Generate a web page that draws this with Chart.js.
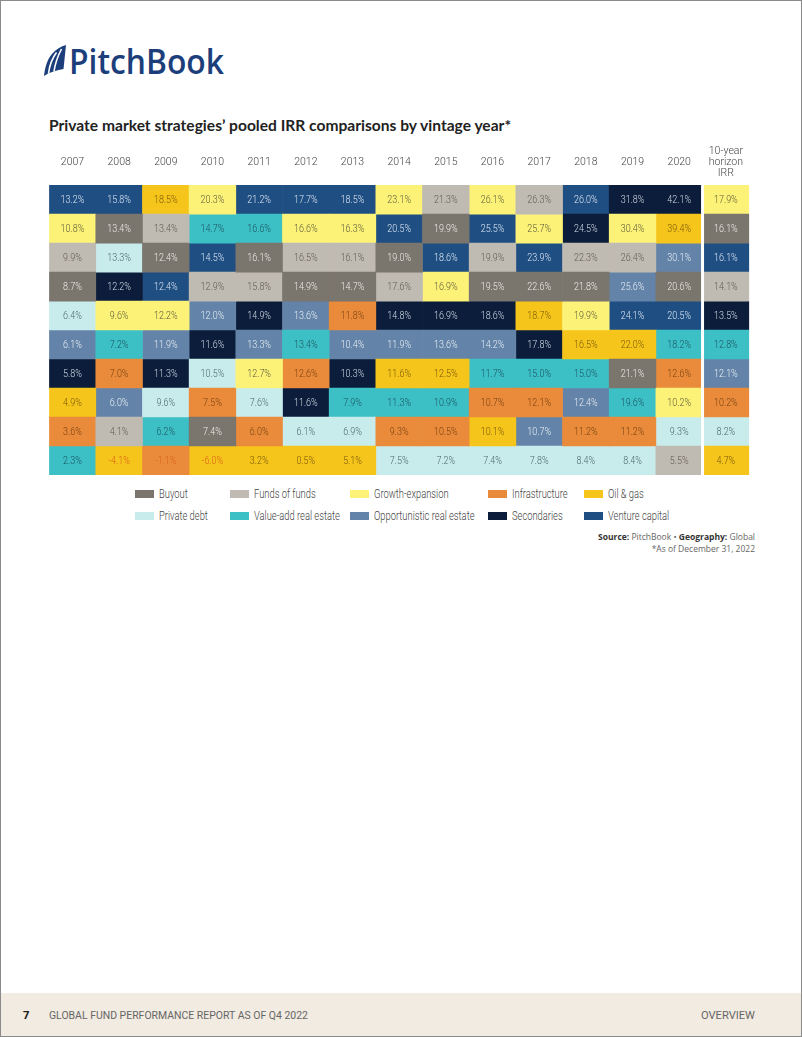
<!DOCTYPE html>
<html lang="en">
<head>
  <meta charset="UTF-8">
  <title>Pooled IRR by vintage year</title>
  <script src="https://cdn.jsdelivr.net/npm/chart.js"></script>
  <style>
    html, body { margin: 0; padding: 0; background: #fff; }
    #page {
      position: relative; width: 802px; height: 1037px; box-sizing: border-box;
      border: 1px solid #8a8a8a; overflow: hidden;
      font-family: Roboto, sans-serif;
    }
    #chartBox { position: absolute; left: 48px; top: 127px; width: 706px; height: 347px; }
    .legend-item { position: absolute; height: 14px; display: flex; align-items: center;
      font-size: 12px; font-weight: 300; color: #444; white-space: nowrap; }
    .legend-item .sw { display: inline-block; width: 19px; height: 8px; margin-right: 5px; }
    .legend-item .lb { display: inline-block; transform: scaleX(0.78); transform-origin: left center; }
    #footer { position: absolute; left: 0; right: 0; top: 992px; bottom: 0; background: #f1ebe1; }
    svg.overlay { position: absolute; left: 0; top: 0; }
  </style>
</head>
<body>
<div id="page">
  <svg class="overlay" width="802" height="1037">
    <!-- logo -->
    <g transform="translate(42,44)">
      <path d="M1 31 C2 22 4.5 14 9 9 C13 4 18 1.5 23 0 L20.5 24 C14 25 7 27 1 31 Z" fill="#1c3f7c"/>
      <path d="M5.5 28.5 C6.5 21 8.5 14 13.5 7.5" stroke="#fff" stroke-width="1.6" fill="none"/>
      <path d="M11 26.5 C12 19.5 14 12.5 18.5 4" stroke="#fff" stroke-width="1.6" fill="none"/>
    </g>
    <text x="68" y="73" font-family="Open Sans, sans-serif" font-weight="600" font-size="35"
      fill="#1c3f7c" textLength="155" lengthAdjust="spacingAndGlyphs">PitchBook</text>
    <!-- title -->
    <text x="48" y="130" font-family="Lato, sans-serif" font-weight="700" font-size="15.5"
      fill="#222" textLength="462" lengthAdjust="spacingAndGlyphs">Private market strategies’ pooled IRR comparisons by vintage year*</text>
    <!-- source -->
    <text x="754" y="539" text-anchor="end" font-family="Open Sans, sans-serif" font-size="8.5" fill="#666"><tspan font-weight="700" fill="#333">Source:</tspan> PitchBook  •  <tspan font-weight="700" fill="#333">Geography:</tspan> Global</text>
    <text x="754" y="551" text-anchor="end" font-family="Open Sans, sans-serif" font-size="8.5" fill="#666">*As of December 31, 2022</text>
  </svg>
  <div id="chartBox"><canvas id="quilt"></canvas></div>
  <div id="legend"></div>
  <div id="footer">
    <svg width="802" height="45">
      <text x="22" y="26" font-family="Open Sans, sans-serif" font-weight="700" font-size="11" fill="#222">7</text>
      <text x="48" y="26" font-family="Roboto, sans-serif" font-size="10.5" fill="#666"
        textLength="259" lengthAdjust="spacingAndGlyphs">GLOBAL FUND PERFORMANCE REPORT AS OF Q4 2022</text>
      <text x="754" y="26" text-anchor="end" font-family="Roboto, sans-serif" font-size="10.5" fill="#666"
        textLength="54" lengthAdjust="spacingAndGlyphs">OVERVIEW</text>
    </svg>
  </div>
</div>
<script>
  // vintage years (columns), last one is the 10-year horizon
  const years = ['2007', '2008', '2009', '2010', '2011', '2012', '2013', '2014', '2015', '2016',
    '2017', '2018', '2019', '2020', ['10-year', 'horizon', 'IRR']];

  const strategies = ['Buyout', 'Funds of funds', 'Growth-expansion', 'Infrastructure', 'Oil & gas',
    'Private debt', 'Value-add real estate', 'Opportunistic real estate', 'Secondaries', 'Venture capital'];

  // pooled IRR (%) per strategy, one value per column above
  const buyout        = [8.7, 13.4, 12.4, 7.4, 16.1, 14.9, 14.7, 19.0, 19.9, 19.5, 22.6, 21.8, 21.1, 20.6, 16.1];
  const fundsOfFunds  = [9.9, 4.1, 13.4, 12.9, 15.8, 16.5, 16.1, 17.6, 21.3, 19.9, 26.3, 22.3, 26.4, 5.5, 14.1];
  const growth        = [10.8, 9.6, 12.2, 20.3, 12.7, 16.6, 16.3, 23.1, 16.9, 26.1, 25.7, 19.9, 30.4, 10.2, 17.9];
  const infra         = [3.6, 7.0, -1.1, 7.5, 6.0, 12.6, 11.8, 9.3, 10.5, 10.7, 12.1, 11.2, 11.2, 12.6, 10.2];
  const oilGas        = [4.9, -4.1, 18.5, -6.0, 3.2, 0.5, 5.1, 11.6, 12.5, 10.1, 18.7, 16.5, 22.0, 39.4, 4.7];
  const privateDebt   = [6.4, 13.3, 9.6, 10.5, 7.6, 6.1, 6.9, 7.5, 7.2, 7.4, 7.8, 8.4, 8.4, 9.3, 8.2];
  const valueAddRE    = [2.3, 7.2, 6.2, 14.7, 16.6, 13.4, 7.9, 11.3, 10.9, 11.7, 15.0, 15.0, 19.6, 18.2, 12.8];
  const opportunRE    = [6.1, 6.0, 11.9, 12.0, 13.3, 13.6, 10.4, 11.9, 13.6, 14.2, 10.7, 12.4, 25.6, 30.1, 12.1];
  const secondaries   = [5.8, 12.2, 11.3, 11.6, 14.9, 11.6, 10.3, 14.8, 16.9, 18.6, 17.8, 24.5, 31.8, 42.1, 13.5];
  const ventureCap    = [13.2, 15.8, 12.4, 14.5, 21.2, 17.7, 18.5, 20.5, 18.6, 25.5, 23.9, 26.0, 24.1, 20.5, 16.1];

  const irr = [buyout, fundsOfFunds, growth, infra, oilGas, privateDebt, valueAddRE, opportunRE, secondaries, ventureCap];

  const fills = ['#7a756d', '#c0bbb2', '#fbf277', '#e98b3a', '#f6c51b',
    '#c8ecec', '#3cbfc5', '#6384a8', '#0b1d3a', '#1f4e82'];
  const inks = ['#eeece8', '#5f5b55', '#5e5c3c', '#7a4213', '#7a5a0c',
    '#4d6a70', '#1d5660', '#e8eef5', '#d4dbe6', '#dce6f2'];
  const negInk = '#d9641a';

  // rank of each strategy inside each column (0 = highest IRR)
  const ranks = irr.map(() => []);
  years.forEach((_, j) => {
    const order = irr.map((s, i) => i).sort((a, b) => irr[b][j] - irr[a][j] || a - b);
    order.forEach((i, r) => { ranks[i][j] = r; });
  });

  const font = 'Roboto, sans-serif';

  const cellText = {
    id: 'cellText',
    afterDatasetsDraw(chart) {
      const ctx = chart.ctx;
      const xs = chart.scales.x;
      const area = chart.chartArea;
      ctx.save();
      // white gutter in front of the 10-year column
      const gx = (xs.getPixelForValue(13) + xs.getPixelForValue(14)) / 2;
      ctx.fillStyle = '#fff';
      ctx.fillRect(gx - 1.5, area.top, 3, area.bottom - area.top);

      ctx.font = '300 11.5px ' + font;
      ctx.textAlign = 'center';
      ctx.textBaseline = 'middle';
      chart.data.datasets.forEach((ds, i) => {
        chart.getDatasetMeta(i).data.forEach((bar, j) => {
          const v = irr[i][j];
          ctx.fillStyle = v < 0 ? negInk : inks[i];
          ctx.save();
          ctx.translate(bar.x, (bar.y + bar.base) / 2 + 1);
          ctx.scale(0.78, 1);   // narrow type like the report's face
          ctx.fillText(v.toFixed(1) + '%', 0, 0);
          ctx.restore();
        });
      });
      ctx.restore();
    }
  };

  new Chart(document.getElementById('quilt'), {
    type: 'bar',
    data: {
      labels: years,
      datasets: strategies.map((name, i) => ({
        label: name,
        data: ranks[i].map(r => [r, r + 1]),
        backgroundColor: fills[i],
        borderWidth: 0,
        grouped: false,
        categoryPercentage: 1,
        barPercentage: 1
      }))
    },
    options: {
      responsive: true,
      maintainAspectRatio: false,
      animation: false,
      layout: { padding: 0 },
      plugins: { legend: { display: false }, tooltip: { enabled: false } },
      scales: {
        x: {
          position: 'top',
          grid: { display: false, drawTicks: false },
          border: { display: false },
          ticks: {
            color: '#444', padding: 12, crossAlign: 'center', maxRotation: 0, autoSkip: false,
            font: { family: font, size: 10.5, weight: 300, lineHeight: 1.05 }
          }
        },
        y: { min: 0, max: 10, reverse: true, display: false }
      }
    },
    plugins: [cellText]
  });

  // legend, two rows of five
  const legendX = [134, 229, 349, 487, 583];
  const legendY = [486, 508];
  const legend = document.getElementById('legend');
  strategies.forEach((name, i) => {
    const el = document.createElement('div');
    el.className = 'legend-item';
    el.style.left = legendX[i % 5] + 'px';
    el.style.top = legendY[Math.floor(i / 5)] + 'px';
    el.innerHTML = '<span class="sw" style="background:' + fills[i] + '"></span><span class="lb">' +
      name.replace('&', '&amp;') + '</span>';
    legend.appendChild(el);
  });
</script>
</body>
</html>
